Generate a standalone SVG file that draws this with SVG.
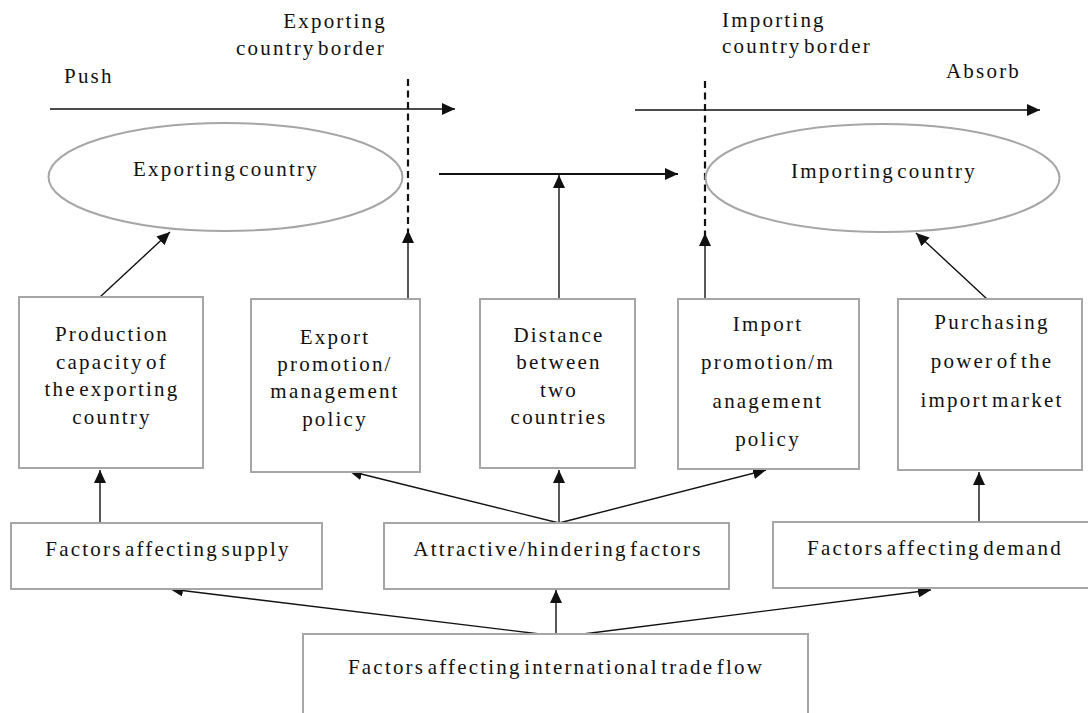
<svg xmlns="http://www.w3.org/2000/svg" width="1088" height="713" viewBox="0 0 1088 713">
  <style>
    text { font-size: 21px; fill: #111; letter-spacing: 2.2px; word-spacing: -5px; }
    .c { text-anchor: middle; }
    .e { text-anchor: end; }
    .box { fill: #fff; stroke: #a6a6a6; stroke-width: 2; }
    .oval { fill: #fff; stroke: #a6a6a6; stroke-width: 2; }
    .ln { fill: none; stroke: #111; stroke-width: 1.4; }
    .thick { stroke-width: 2.2; }
    .dash { fill: none; stroke: #111; stroke-width: 2.2; stroke-dasharray: 7 4.5; }
  </style>
  <defs>
    <marker id="arr" markerUnits="userSpaceOnUse" markerWidth="13" markerHeight="12" refX="13" refY="6" orient="auto">
      <path d="M0,0 L13,6 L0,12 z" fill="#111"/>
    </marker>
  </defs>
  <rect width="1088" height="713" fill="#fff"/>

  <g font-family="'Liberation Serif', 'DejaVu Serif', serif">
  <!-- border labels and flow labels -->
  <g id="labels">
    <text class="e" x="387" y="28">Exporting</text>
    <text class="e" x="386" y="55">country border</text>
    <text x="64" y="83">Push</text>
    <text x="722" y="27">Importing</text>
    <text x="722" y="53">country border</text>
    <text x="946" y="78">Absorb</text>
  </g>

  <!-- connectors -->
  <g id="connectors">
    <line class="ln" x1="50" y1="109" x2="455" y2="109" marker-end="url(#arr)"/>
    <line class="ln" x1="635" y1="110" x2="1040" y2="110" marker-end="url(#arr)"/>
    <line class="dash" x1="408" y1="79" x2="408" y2="232"/>
    <line class="dash" x1="705" y1="81" x2="705" y2="235"/>
    <line class="ln" x1="408" y1="298" x2="408" y2="230" marker-end="url(#arr)"/>
    <line class="ln" x1="705" y1="299" x2="705" y2="233" marker-end="url(#arr)"/>
    <line class="ln thick" x1="439" y1="174" x2="678" y2="174" marker-end="url(#arr)"/>
    <line class="ln" x1="559" y1="299" x2="559" y2="175" marker-end="url(#arr)"/>
    <line class="ln" x1="100" y1="297" x2="170" y2="232" marker-end="url(#arr)"/>
    <line class="ln" x1="987" y1="299" x2="916" y2="233" marker-end="url(#arr)"/>
    <line class="ln" x1="100" y1="523" x2="100" y2="470" marker-end="url(#arr)"/>
    <line class="ln" x1="559" y1="523" x2="349" y2="471" marker-end="url(#arr)"/>
    <line class="ln" x1="559" y1="523" x2="559" y2="470" marker-end="url(#arr)"/>
    <line class="ln" x1="559" y1="523" x2="766" y2="470" marker-end="url(#arr)"/>
    <line class="ln" x1="979" y1="522" x2="979" y2="472" marker-end="url(#arr)"/>
    <line class="ln" x1="540" y1="634" x2="170" y2="589" marker-end="url(#arr)"/>
    <line class="ln" x1="556" y1="634" x2="556" y2="590" marker-end="url(#arr)"/>
    <line class="ln" x1="583" y1="634" x2="931" y2="590" marker-end="url(#arr)"/>
  </g>

  <g id="exporting-country">
    <ellipse class="oval" cx="225.5" cy="177" rx="177" ry="54"/>
    <text class="c" x="226" y="176">Exporting country</text>
  </g>
  <g id="importing-country">
    <ellipse class="oval" cx="882.5" cy="178" rx="177" ry="54"/>
    <text class="c" x="884" y="178">Importing country</text>
  </g>

  <g id="production-capacity">
    <rect class="box" x="19" y="297" width="184" height="171"/>
    <text class="c" x="112" y="341">Production</text>
    <text class="c" x="112" y="369">capacity of</text>
    <text class="c" x="112" y="396">the exporting</text>
    <text class="c" x="112" y="424">country</text>
  </g>
  <g id="export-policy">
    <rect class="box" x="251" y="299" width="169" height="173"/>
    <text class="c" x="335" y="344">Export</text>
    <text class="c" x="335" y="371">promotion/</text>
    <text class="c" x="335" y="398">management</text>
    <text class="c" x="335" y="426">policy</text>
  </g>
  <g id="distance">
    <rect class="box" x="480" y="299" width="155" height="169"/>
    <text class="c" x="559" y="342">Distance</text>
    <text class="c" x="559" y="369">between</text>
    <text class="c" x="559" y="397">two</text>
    <text class="c" x="559" y="424">countries</text>
  </g>
  <g id="import-policy">
    <rect class="box" x="678" y="299" width="181" height="170"/>
    <text class="c" x="768" y="331">Import</text>
    <text class="c" x="768" y="369">promotion/m</text>
    <text class="c" x="768" y="408">anagement</text>
    <text class="c" x="768" y="446">policy</text>
  </g>
  <g id="purchasing-power">
    <rect class="box" x="898" y="299" width="184" height="171"/>
    <text class="c" x="992" y="329">Purchasing</text>
    <text class="c" x="992" y="368">power of the</text>
    <text class="c" x="992" y="407">import market</text>
  </g>

  <g id="supply-factors">
    <rect class="box" x="11" y="523" width="311" height="66"/>
    <text class="c" x="168" y="556">Factors affecting supply</text>
  </g>
  <g id="attractive-factors">
    <rect class="box" x="384" y="523" width="345" height="66"/>
    <text class="c" x="558" y="556">Attractive/hindering factors</text>
  </g>
  <g id="demand-factors">
    <rect class="box" x="773" y="522" width="320" height="66"/>
    <text class="c" x="935" y="555">Factors affecting demand</text>
  </g>

  <g id="trade-flow-factors">
    <rect class="box" x="303" y="634" width="505" height="90"/>
    <text class="c" x="556" y="674">Factors affecting international trade flow</text>
  </g>
  </g>
</svg>
